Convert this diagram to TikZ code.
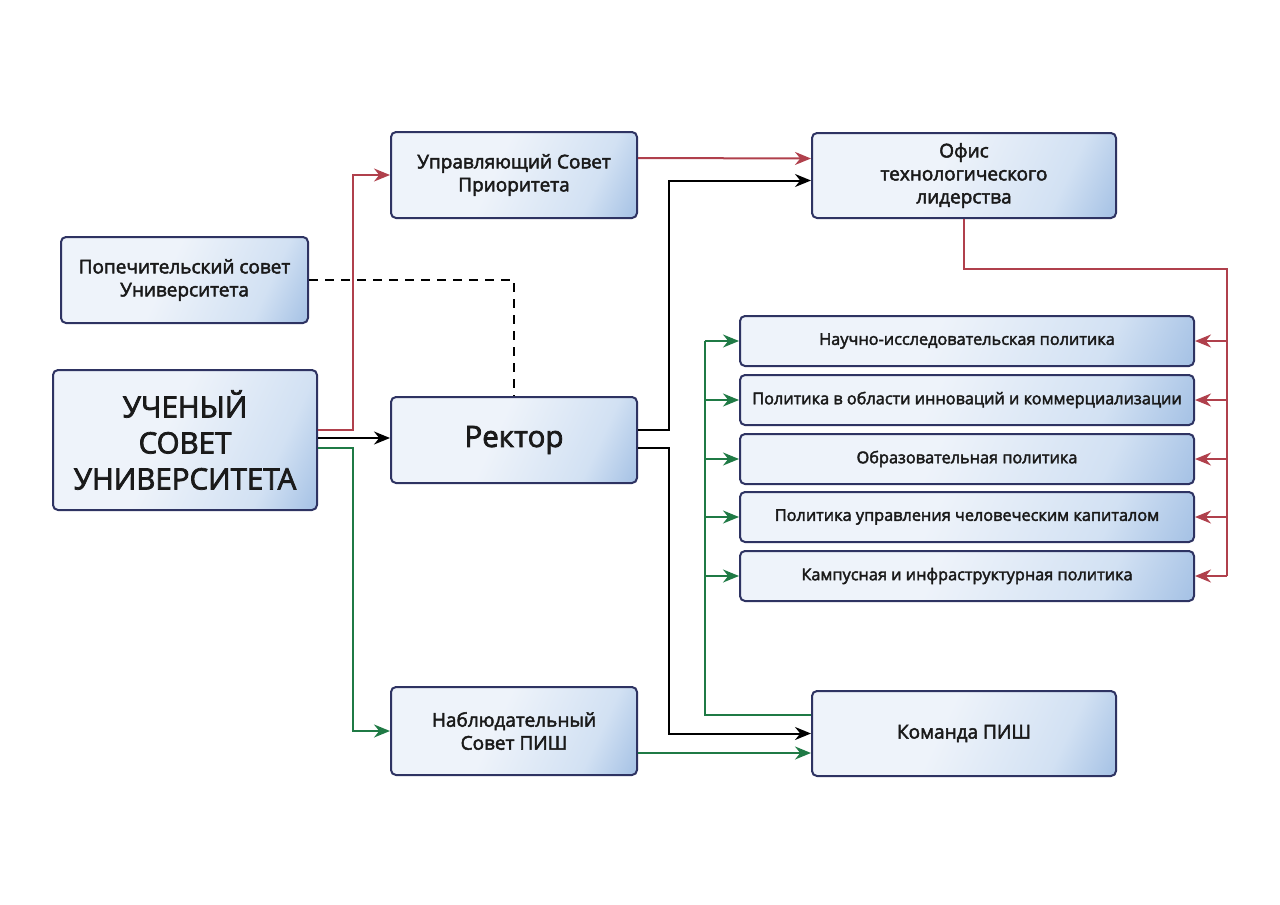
\documentclass[tikz,border=0pt]{standalone}
\usepackage{fontspec}
\setmainfont{Open Sans}
\newfontfamily\medfont{Open Sans}[FakeBold=2.5]
\usetikzlibrary{arrows.meta,calc}
\definecolor{ink}{HTML}{1A1A1A}
\definecolor{navy}{HTML}{2E3362}
\definecolor{fillhi}{HTML}{EEF3FA}
\definecolor{fillmid}{HTML}{D2E1F3}
\definecolor{filllo}{HTML}{6A98D2}
\definecolor{linkred}{HTML}{B0404C}
\definecolor{linkgreen}{HTML}{1F7A45}
\pgfdeclarehorizontalshading{boxshade}{100bp}{color(0bp)=(fillhi); color(45bp)=(fillhi); color(70bp)=(fillmid); color(100bp)=(filllo)}
\tikzset{
  every node/.style={font=\medfont\fontsize{19}{23}\selectfont, text=ink},
  box/.style={draw=navy, line width=2pt, rounded corners=5pt, align=center, shade, shading=boxshade, shading angle=-25, inner sep=4pt},
  midbox/.style={box, minimum width=246pt, minimum height=86pt},
  widebox/.style={box, minimum width=304pt, minimum height=85pt},
  polbox/.style={box, minimum width=454pt, minimum height=50pt, font=\medfont\fontsize{16.3}{19}\selectfont},
  bigtext/.style={font=\medfont\fontsize{29.5}{36}\selectfont},
  link/.style={line width=2pt, line join=miter},
  tip/.style={-{Stealth[length=16pt,width=13pt]}},
  redlink/.style={link, draw=linkred, tip},
  greenlink/.style={link, draw=linkgreen, tip},
  blacklink/.style={link, draw=black, tip},
}
\begin{document}
\begin{tikzpicture}[x=1pt, y=-1pt]
  \useasboundingbox (0,0) rectangle (1280,905);

  % --- left column -------------------------------------------------------
  \node[midbox, minimum width=247pt] (pop) at (184.5,280) {Попечительский совет\\Университета};
  \node[box, bigtext, minimum width=264pt, minimum height=140pt] (uch) at (185,440) {УЧЕНЫЙ\\СОВЕТ\\УНИВЕРСИТЕТА};

  % --- middle column -----------------------------------------------------
  \node[midbox] (usp) at (514,175) {Управляющий Совет\\Приоритета};
  \node[midbox, bigtext] (rect) at (514,440) {Ректор};
  \node[midbox, minimum height=88pt] (nab) at (514,731) {Наблюдательный\\Совет ПИШ};

  % --- right column ------------------------------------------------------
  \node[widebox] (ofis) at (964,175.5) {Офис\\технологического\\лидерства};
  \node[widebox] (kom) at (964,733.5) {Команда ПИШ};

  \foreach \i/\y/\t in {1/341/Научно-исследовательская политика,
      2/400/Политика в области инноваций и коммерциализации,
      3/459/Образовательная политика,
      4/517/Политика управления человеческим капиталом,
      5/576/Кампусная и инфраструктурная политика} {
    \node[polbox] (pol\i) at (967,\y) {\t};
  }

  % buses
  \coordinate (gbus) at (705,0);
  \coordinate (rbus) at (1227,0);

  % --- connectors from the academic council ---------------------------------
  \draw[redlink] ([yshift=10pt]uch.east) -- ++(35,0) |- (usp.west);
  \draw[blacklink] ([yshift=2pt]uch.east) -- ([yshift=2pt]rect.west);
  \draw[greenlink] ([yshift=-8pt]uch.east) -- ++(35,0) |- (nab.west);
  \draw[link, dashed, dash pattern=on 9pt off 7pt] (pop.east) -| (rect.north);

  % --- connectors from the rector -------------------------------------------
  \draw[redlink] ([yshift=17pt]usp.east) -- ([yshift=17pt]ofis.west);
  \draw[blacklink] ([yshift=10pt]rect.east) -- ++(31,0) |- ([yshift=-5pt]ofis.west);
  \draw[blacklink] ([yshift=-8pt]rect.east) -- ++(31,0) |- (kom.west);
  \coordinate (n1) at ([yshift=-22pt]nab.east);
  \draw[greenlink] (n1) -- (n1 -| kom.west);

  % --- policy buses -----------------------------------------------------
  \draw[link, draw=linkred] (ofis.south) -- ++(0,50) -| (rbus |- pol5.east);
  \draw[link, draw=linkgreen] ([yshift=19pt]kom.west) -| (gbus |- pol1.west);
  \foreach \i in {1,...,5} {
    \draw[redlink] (rbus |- pol\i.east) -- (pol\i.east);
    \draw[greenlink] (gbus |- pol\i.west) -- (pol\i.west);
  }
\end{tikzpicture}
\end{document}
